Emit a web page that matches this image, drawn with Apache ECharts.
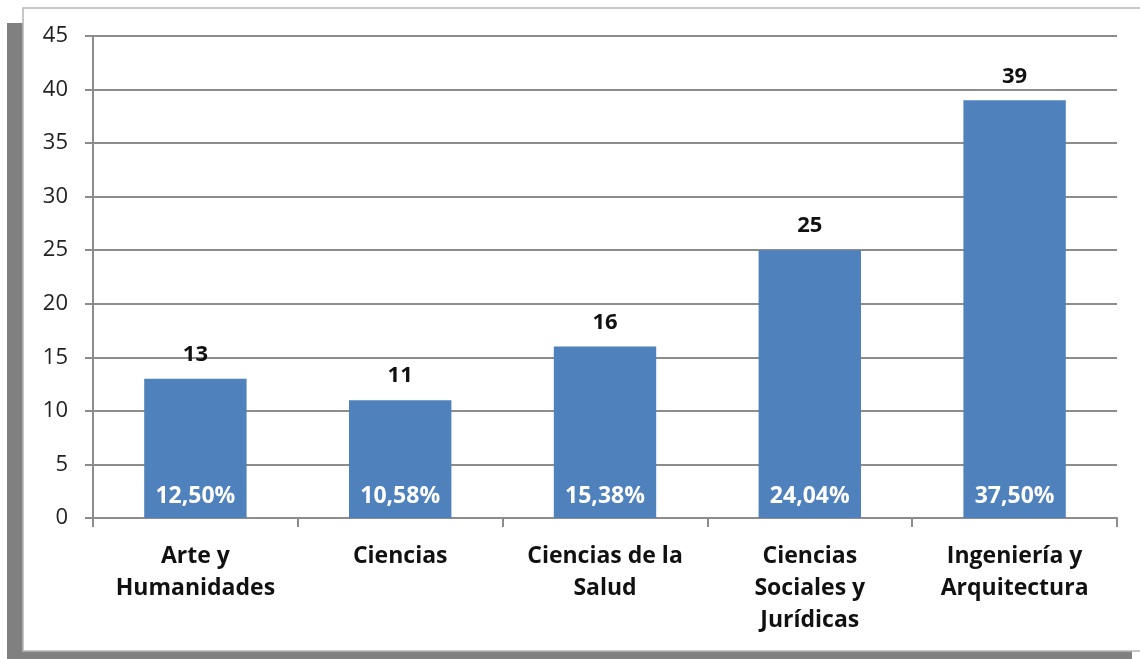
<!DOCTYPE html>
<html>
<head>
<meta charset="utf-8">
<script src="https://cdn.jsdelivr.net/npm/echarts@6/dist/echarts.min.js"></script>
<style>
html,body{margin:0;padding:0;background:#fff;}
#chart{width:1140px;height:659px;}
</style>
</head>
<body>
<div id="chart"></div>
<script>
const categories = ['Arte y\nHumanidades', 'Ciencias', 'Ciencias de la\nSalud', 'Ciencias\nSociales y\nJurídicas', 'Ingeniería y\nArquitectura'];
const counts = [13, 11, 16, 25, 39];
const percentages = ['12,50%', '10,58%', '15,38%', '24,04%', '37,50%'];
const yTicks = { min: 0, max: 45, interval: 5 };

const chart = echarts.init(document.getElementById('chart'));
const font = '"Open Sans", "DejaVu Sans", sans-serif';
chart.setOption({
  animation: false,
  backgroundColor: '#fff',
  graphic: [
    { type: 'rect', z: -10, shape: { x: 7, y: 23, width: 1125, height: 640 }, style: { fill: '#808080' } },
    { type: 'rect', z: -9, shape: { x: 23, y: 8, width: 1130, height: 643 }, style: { fill: '#fff', stroke: '#b5b5b5', lineWidth: 1.5 } }
  ],
  grid: { left: 93, right: 23, top: 36, bottom: 141, containLabel: false },
  xAxis: {
    type: 'category',
    data: categories,
    axisLine: { lineStyle: { color: '#8c8c8c', width: 2 } },
    axisTick: { show: true, length: 9, lineStyle: { color: '#8c8c8c', width: 2 } },
    axisLabel: { color: '#111', fontFamily: font, fontWeight: 'bold', fontSize: 23, lineHeight: 32, margin: 22, interval: 0 }
  },
  yAxis: {
    type: 'value',
    min: yTicks.min, max: yTicks.max, interval: yTicks.interval,
    axisLine: { show: true, lineStyle: { color: '#8c8c8c', width: 2 } },
    axisTick: { show: true, length: 8, lineStyle: { color: '#8c8c8c', width: 2 } },
    splitLine: { lineStyle: { color: '#8c8c8c', width: 2 } },
    axisLabel: { color: '#222', fontFamily: font, fontSize: 22, margin: 25 }
  },
  series: [
    {
      type: 'bar',
      data: counts,
      barWidth: '50%',
      itemStyle: { color: '#4f81bd' },
      label: { show: true, position: 'top', distance: 13, color: '#111', fontFamily: font, fontWeight: 'bold', fontSize: 22 }
    },
    {
      type: 'bar',
      data: counts,
      barWidth: '50%',
      barGap: '-100%',
      itemStyle: { color: 'rgba(0,0,0,0)' },
      label: { show: true, position: 'insideBottom', distance: 10, color: '#fff', fontFamily: font, fontWeight: 'bold', fontSize: 23,
        formatter: p => percentages[p.dataIndex] }
    }
  ]
});
</script>
</body>
</html>
